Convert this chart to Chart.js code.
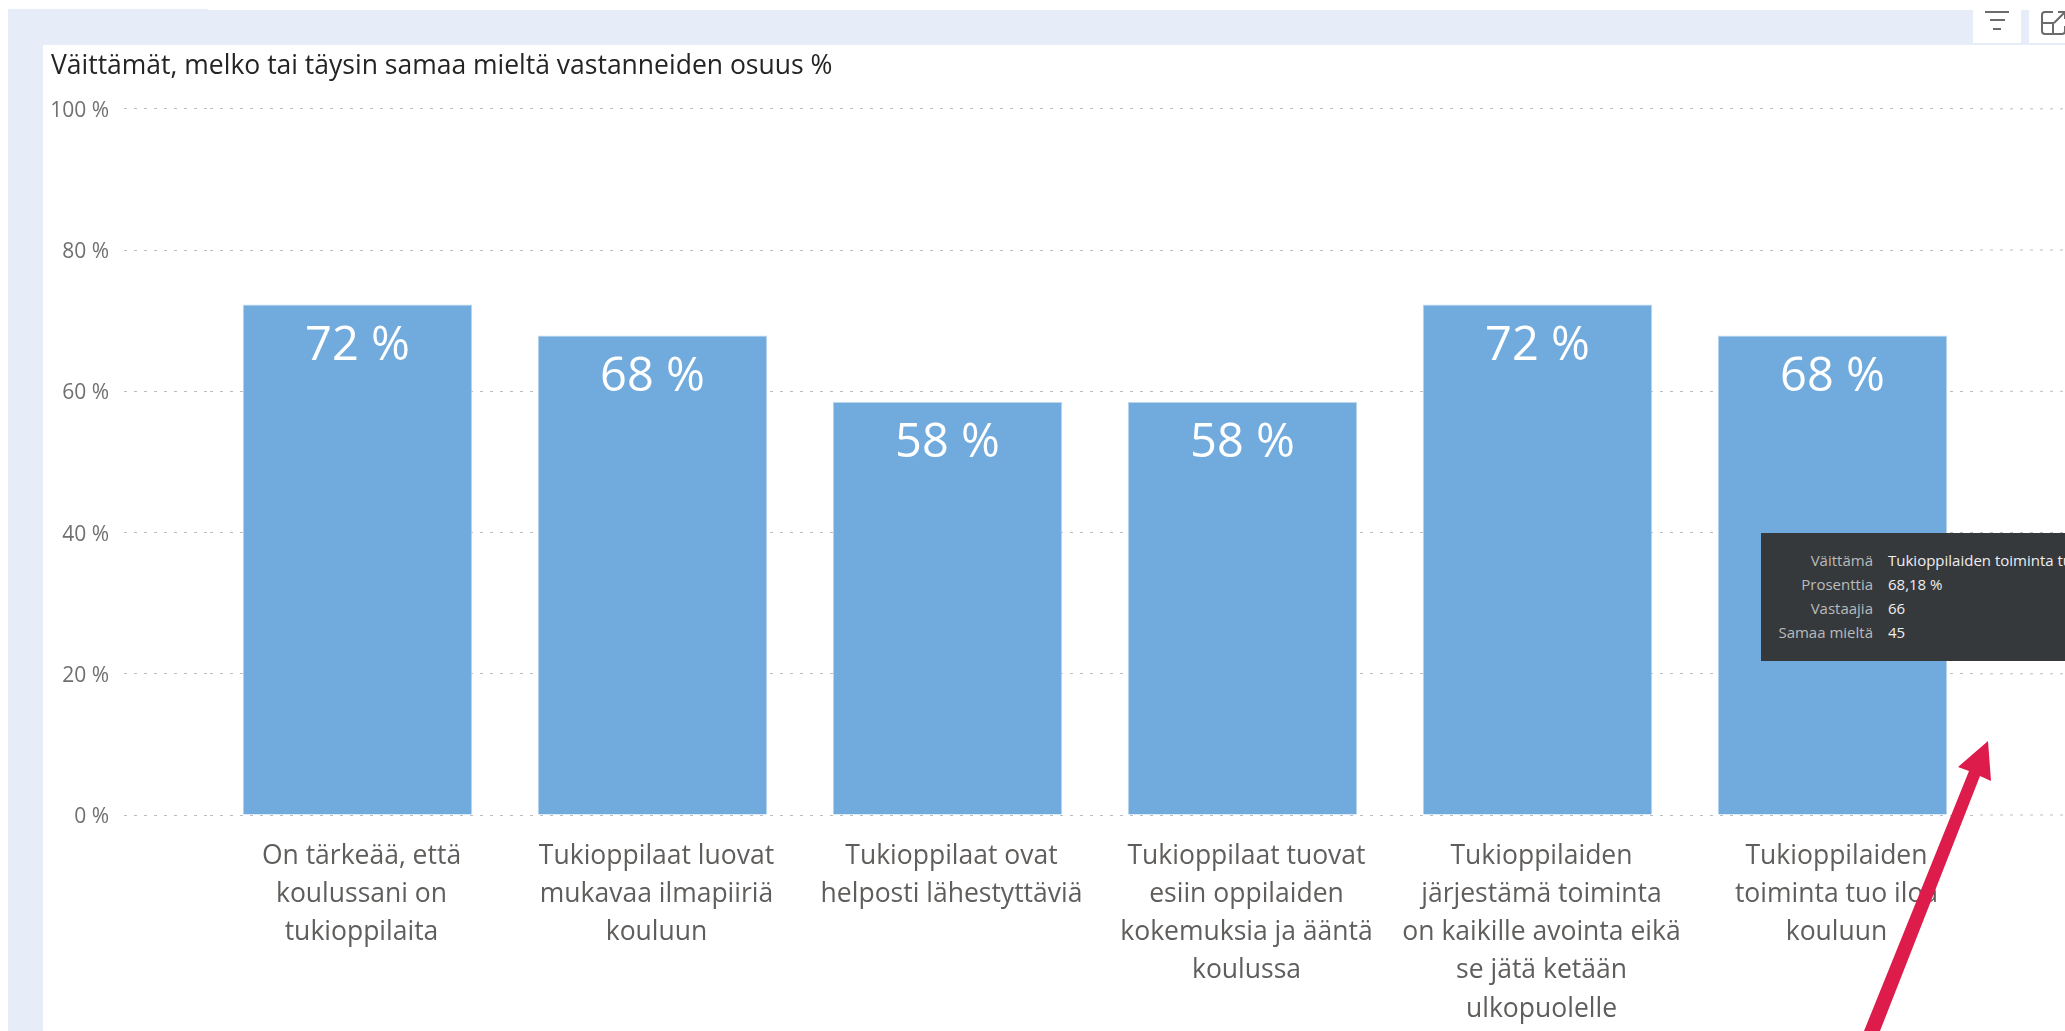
<!DOCTYPE html>
<html>
<head>
<meta charset="utf-8">
<title>Väittämät</title>
<script src="https://cdn.jsdelivr.net/npm/chart.js@4"></script>
<style>
  html, body { margin: 0; padding: 0; background: #fff; overflow: hidden; }
  body { width: 2065px; height: 1031px; position: relative; font-family: "Open Sans", sans-serif; }
  .band { position: absolute; background: #e6edf9; }
  #myChart { position: absolute; left: 0; top: 0; }
  .iconbox { position: absolute; background: #fff; top: 0; height: 43px; }
  #hoverbox { position: absolute; left: 1761px; top: 533px; width: 304px; height: 128px; background: #36393c; overflow: hidden; font-size: 15px; }
  #hoverbox div { position: absolute; white-space: nowrap; line-height: 24px; }
  #hoverbox .k { right: 192px; color: #b9bbbc; }
  #hoverbox .v { left: 127px; color: #eeeeee; }
  svg { position: absolute; left: 0; top: 0; pointer-events: none; }
</style>
</head>
<body>
<div class="band" style="left:8px;top:9px;width:200px;height:36px"></div>
<div class="band" style="left:208px;top:10px;width:1857px;height:35px"></div>
<div class="band" style="left:8px;top:45px;width:35px;height:986px"></div>
<div class="iconbox" style="left:1973px;width:48px"></div>
<div class="iconbox" style="left:2029px;width:36px"></div>

<canvas id="myChart" width="2065" height="1031"></canvas>

<div id="hoverbox"></div>

<svg width="2065" height="1031">
  <!-- filter icon -->
  <g stroke="#6b6b6b" stroke-width="2">
    <line x1="1985" y1="12" x2="2009" y2="12"/>
    <line x1="1990" y1="20" x2="2005" y2="20"/>
    <line x1="1993" y1="29" x2="2001" y2="29"/>
  </g>
  <!-- expand icon -->
  <g stroke="#6b6b6b" stroke-width="2" fill="none">
    <path d="M2053 12 H2045 Q2042 12 2042 15 V31 Q2042 34 2045 34 H2062 Q2065 34 2065 31 V26"/>
    <path d="M2042 23 H2053 V34"/>
    <path d="M2054 23 L2065 12 M2058 12 H2065 V19"/>
  </g>
  <!-- red arrow drawn over the picture -->
  <polygon fill="#dd1c4b" points="1988,741 1991,781 1980,776 1880,1031 1864,1031 1969,771 1958,767"/>
</svg>

<script>
const chartTitle = "Väittämät, melko tai täysin samaa mieltä vastanneiden osuus %";
const categories = [
  ["On tärkeää, että", "koulussani on", "tukioppilaita"],
  ["Tukioppilaat luovat", "mukavaa ilmapiiriä", "kouluun"],
  ["Tukioppilaat ovat", "helposti lähestyttäviä"],
  ["Tukioppilaat tuovat", "esiin oppilaiden", "kokemuksia ja ääntä", "koulussa"],
  ["Tukioppilaiden", "järjestämä toiminta", "on kaikille avointa eikä", "se jätä ketään", "ulkopuolelle"],
  ["Tukioppilaiden", "toiminta tuo iloa", "kouluun"],
];
const osuus = [72.3, 67.9, 58.49, 58.49, 72.3, 67.9];
const tooltipLabels = ["Väittämä", "Prosenttia", "Vastaajia", "Samaa mieltä"];
const tooltipValues = ["Tukioppilaiden toiminta tuo iloa kouluun", "68,18 %", "66", "45"];

const gridColor = "#bdbdbd";
const fontName = "'Open Sans', sans-serif";

// Tooltip box
const box = document.getElementById("hoverbox");
tooltipLabels.forEach((label, i) => {
  const top = 15 + i * 24;
  box.innerHTML += '<div class="k" style="top:' + top + 'px">' + label + "</div>";
  box.innerHTML += '<div class="v" style="top:' + top + 'px">' + tooltipValues[i] + "</div>";
});

// Value labels inside the bars + grid lines running on past the last category
const barLabels = {
  id: "barLabels",
  beforeDatasetsDraw(chart) {
    const ctx = chart.ctx;
    const y = chart.scales.y;
    ctx.save();
    ctx.strokeStyle = gridColor;
    ctx.setLineDash([3, 7]);
    y.ticks.forEach((t) => {
      const py = y.getPixelForValue(t.value);
      ctx.beginPath();
      ctx.moveTo(chart.chartArea.right, py);
      ctx.lineTo(chart.width, py);
      ctx.stroke();
    });
    ctx.restore();
  },
  afterDatasetsDraw(chart) {
    const ctx = chart.ctx;
    ctx.save();
    ctx.fillStyle = "#ffffff";
    ctx.font = "47px " + fontName;
    ctx.textAlign = "center";
    ctx.textBaseline = "middle";
    chart.getDatasetMeta(0).data.forEach((bar, i) => {
      ctx.fillText(Math.round(osuus[i]) + " %", bar.x, bar.y + 42);
    });
    ctx.restore();
  },
};

new Chart(document.getElementById("myChart"), {
  type: "bar",
  data: {
    labels: categories,
    datasets: [
      {
        label: "Osuus",
        data: osuus,
        backgroundColor: "#71abdd",
        borderColor: "#bcd6ef",
        borderWidth: 1,
        barPercentage: 0.778,
        categoryPercentage: 1,
      },
    ],
  },
  plugins: [barLabels],
  options: {
    responsive: false,
    animation: false,
    layout: { padding: { left: 51, right: 85 } },
    plugins: {
      legend: { display: false },
      tooltip: { enabled: false },
      title: {
        display: true,
        text: chartTitle,
        align: "start",
        color: "#252423",
        font: { family: fontName, size: 26.5, weight: "normal" },
        padding: { top: 51, bottom: 26 },
      },
    },
    scales: {
      x: {
        afterFit: (scale) => { scale.height = 216; },
        grid: { display: false },
        border: { display: false },
        ticks: {
          autoSkip: false,
          maxRotation: 0,
          padding: 14,
          labelOffset: 4,
          color: "#605e5c",
          font: { family: fontName, size: 26.5, lineHeight: 1.443 },
        },
      },
      y: {
        min: 0,
        max: 100,
        afterFit: (scale) => { scale.width = 159; },
        grid: {
          color: gridColor,
          tickColor: gridColor,
          tickLength: 86,
          tickBorderDash: [3, 7],
        },
        border: { display: false, dash: [3, 7] },
        ticks: {
          stepSize: 20,
          padding: 15,
          labelOffset: 2,
          color: "#707070",
          font: { family: fontName, size: 21 },
          callback: (v) => v + " %",
        },
      },
    },
  },
});
</script>
</body>
</html>
